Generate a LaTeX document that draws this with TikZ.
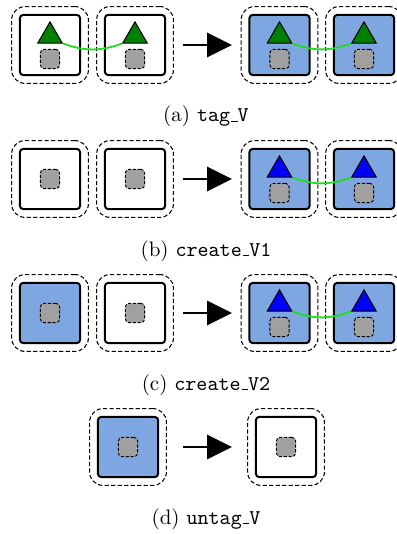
\documentclass[tikz,border=0pt]{standalone}
\usetikzlibrary{shapes.geometric,arrows.meta}
\definecolor{boxblue}{RGB}{126,166,224}
\definecolor{tridgreen}{RGB}{0,128,0}
\definecolor{linkgreen}{RGB}{30,220,30}
\definecolor{sqgray}{RGB}{160,160,160}
\newcommand{\usc}{\leavevmode\kern.06em\vbox{\hrule width.3em}}
\tikzset{
  outerbox/.style={draw, line width=0.5pt, dash pattern=on 2pt off 1.1pt, rounded corners=6.5pt, minimum size=36.6pt, inner sep=0pt},
  innerbox/.style={draw, line width=0.95pt, rounded corners=1.5pt, minimum size=28.6pt, inner sep=0pt, fill=white},
  bluebox/.style={innerbox, fill=boxblue},
  graysq/.style={draw, fill=sqgray, line width=0.45pt, dash pattern=on 1.5pt off 0.8pt, rounded corners=1.8pt, minimum size=9.2pt, inner sep=0pt},
  tri/.style={regular polygon, regular polygon sides=3, draw, line width=0.5pt, minimum size=13.4pt, inner sep=0pt},
  gtri/.style={tri, fill=tridgreen},
  btri/.style={tri, fill=blue},
  link/.style={draw=linkgreen, line width=0.85pt},
  bigarrow/.style={line width=1pt, -{Triangle[length=11.9pt, width=11.6pt]}},
  caption/.style={anchor=base, font=\normalsize}
}
\begin{document}
\begin{tikzpicture}[x=0.476pt, y=-0.476pt]
\useasboundingbox (0,0) rectangle (396,534);
% ---------- row (a) ----------
\foreach \n/\x/\f/\t in {a1/50/innerbox/gtri, a2/135/innerbox/gtri, a3/279.5/bluebox/gtri, a4/364/bluebox/gtri}{
  \node[outerbox] (o\n) at (\x,45) {};
  \node[\f] (b\n) at (\x,45) {};
  \node[graysq] (s\n) at (\x,59) {};
  \node[\t] (t\n) at (\x,36) {};
}
\draw[link] (ta1.corner 3) to[bend right=20] (ta2.corner 2);
\draw[link] (ta3.corner 3) to[bend right=20] (ta4.corner 2);
\coordinate (arA1) at (183,45); \coordinate (arA2) at (232,45);
\draw[bigarrow] (arA1) -- (arA2);
\node[caption] (capa) at (206,122) {(a) \texttt{tag\usc V}};
% ---------- row (b) ----------
\foreach \n/\x in {b1/50, b2/135}{
  \node[outerbox] (o\n) at (\x,179) {};
  \node[innerbox] (b\n) at (\x,179) {};
  \node[graysq] (s\n) at (\x,179) {};
}
\foreach \n/\x in {b3/279.5, b4/364}{
  \node[outerbox] (o\n) at (\x,179) {};
  \node[bluebox] (b\n) at (\x,179) {};
  \node[graysq] (s\n) at (\x,193) {};
  \node[btri] (t\n) at (\x,170) {};
}
\draw[link] (tb3.corner 3) to[bend right=20] (tb4.corner 2);
\coordinate (arB1) at (183,179); \coordinate (arB2) at (232,179);
\draw[bigarrow] (arB1) -- (arB2);
\node[caption] (capb) at (206,256) {(b) \texttt{create\usc V1}};
% ---------- row (c) ----------
\foreach \n/\x/\f in {c1/50/bluebox, c2/135/innerbox}{
  \node[outerbox] (o\n) at (\x,313) {};
  \node[\f] (b\n) at (\x,313) {};
  \node[graysq] (s\n) at (\x,313) {};
}
\foreach \n/\x in {c3/279.5, c4/364}{
  \node[outerbox] (o\n) at (\x,313) {};
  \node[bluebox] (b\n) at (\x,313) {};
  \node[graysq] (s\n) at (\x,327) {};
  \node[btri] (t\n) at (\x,304) {};
}
\draw[link] (tc3.corner 3) to[bend right=20] (tc4.corner 2);
\coordinate (arC1) at (183,313); \coordinate (arC2) at (232,313);
\draw[bigarrow] (arC1) -- (arC2);
\node[caption] (capc) at (206,390) {(c) \texttt{create\usc V2}};
% ---------- row (d) ----------
\node[outerbox] (od1) at (128,447) {};
\node[bluebox] (bd1) at (128,447) {};
\node[graysq] (sd1) at (128,447) {};
\node[outerbox] (od2) at (286,447) {};
\node[innerbox] (bd2) at (286,447) {};
\node[graysq] (sd2) at (286,447) {};
\coordinate (arD1) at (183,447); \coordinate (arD2) at (232,447);
\draw[bigarrow] (arD1) -- (arD2);
\node[caption] (capd) at (206,524) {(d) \texttt{untag\usc V}};
\end{tikzpicture}
\end{document}
